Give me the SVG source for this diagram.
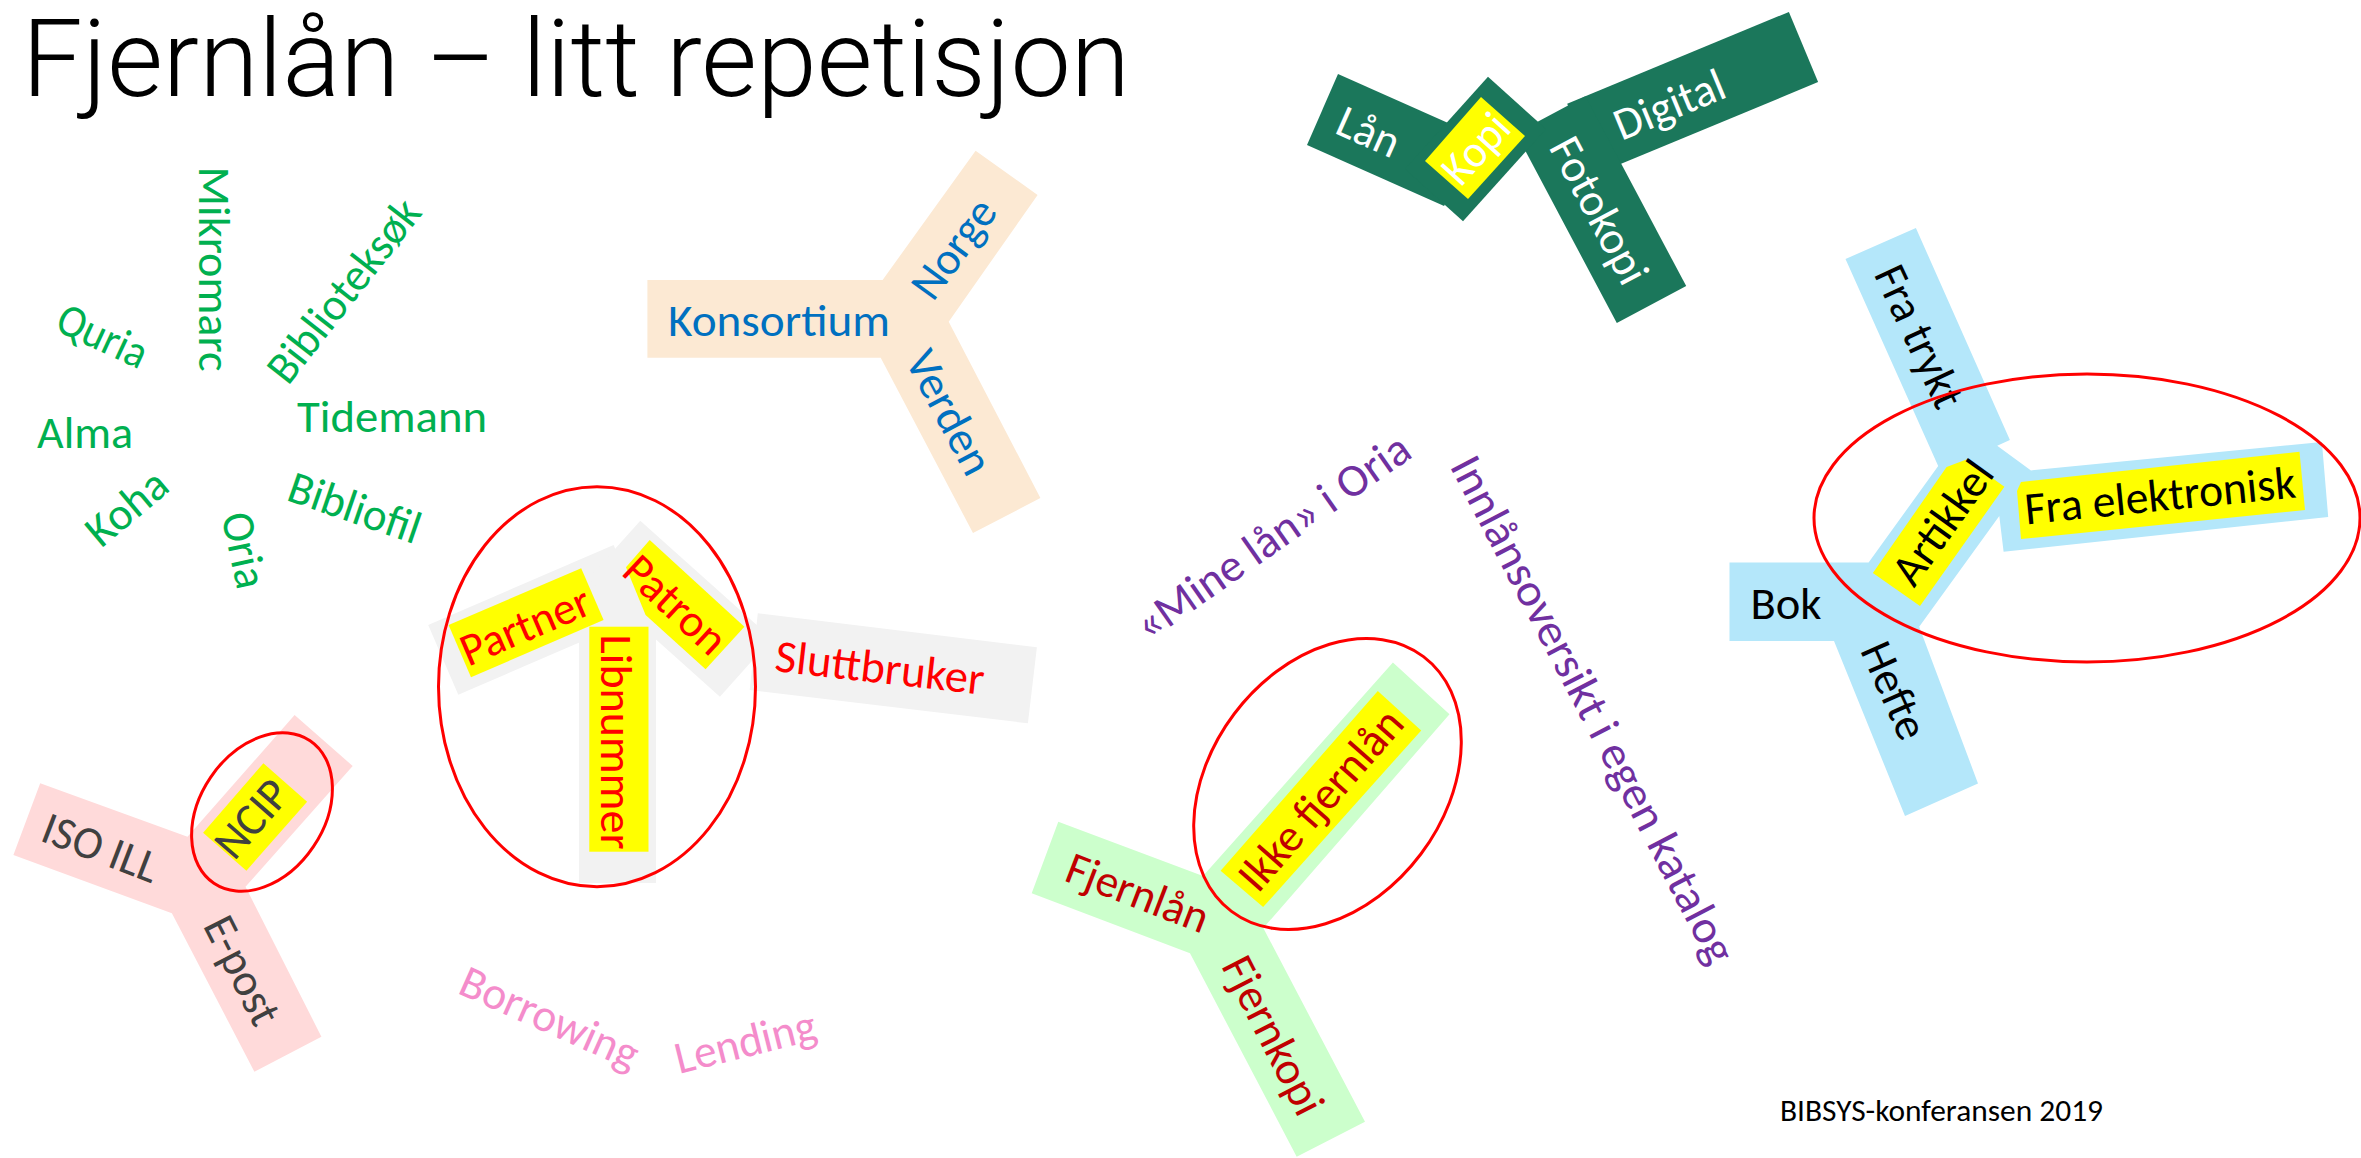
<svg xmlns="http://www.w3.org/2000/svg" width="2361" height="1158" viewBox="0 0 2361 1158">
<style>
text{font-family:Carlito,Lato,"Open Sans",sans-serif;font-size:46px;text-anchor:middle}
.title{font-family:Roboto,Lato,sans-serif;font-size:108px;font-weight:300;text-anchor:start;fill:#000}
.foot{font-size:31px;text-anchor:start;fill:#000}
.green{fill:#00B050}.blue{fill:#0070C0}.white{fill:#fff}.black{fill:#000}
.gray{fill:#404040}.red{fill:#FF0000}.dred{fill:#C00000}.purple{fill:#7030A0}.pink{fill:#F48CCB}
.hl{fill:#FFFF00}
.ring{fill:none;stroke:#FF0000;stroke-width:3}
</style>
<rect width="2361" height="1158" fill="#fff"/>
<text class="title" x="22" y="96" textLength="1108" lengthAdjust="spacingAndGlyphs">Fjernlån – litt repetisjon</text>

<g id="systems">
<text class="green" transform="translate(103 335) rotate(25)" y="16" textLength="95" lengthAdjust="spacingAndGlyphs">Quria</text>
<text class="green" transform="translate(215 269) rotate(90)" y="16" textLength="205" lengthAdjust="spacingAndGlyphs">Mikromarc</text>
<text class="green" transform="translate(343 290) rotate(-52)" y="16" textLength="220" lengthAdjust="spacingAndGlyphs">Biblioteksøk</text>
<text class="green" transform="translate(392 416)" y="16" textLength="190" lengthAdjust="spacingAndGlyphs">Tidemann</text>
<text class="green" transform="translate(85 432)" y="16" textLength="96" lengthAdjust="spacingAndGlyphs">Alma</text>
<text class="green" transform="translate(126 507) rotate(-40)" y="16" textLength="92" lengthAdjust="spacingAndGlyphs">Koha</text>
<text class="green" transform="translate(245 550) rotate(78)" y="16" textLength="77" lengthAdjust="spacingAndGlyphs">Oria</text>
<text class="green" transform="translate(355 507) rotate(19)" y="16" textLength="137" lengthAdjust="spacingAndGlyphs">Bibliofil</text>
</g>

<g id="konsortium">
<polygon fill="#FCE9D3" points="647.4,280 882.6,280 975.6,150.7 1037.6,195 948.7,321.7 1040.4,498 973,533 880.7,357.7 647.4,357.7"/>
<text class="blue" transform="translate(779 320)" y="16" textLength="222" lengthAdjust="spacingAndGlyphs">Konsortium</text>
<text class="blue" transform="translate(953 248) rotate(-54)" y="16" textLength="112" lengthAdjust="spacingAndGlyphs">Norge</text>
<text class="blue" transform="translate(950 412) rotate(62)" y="16" textLength="134" lengthAdjust="spacingAndGlyphs">Verden</text>
</g>

<g id="kopi" fill="#1B775B">
<polygon points="1567.2,103.8 1788.9,11.9 1818.1,82.1 1596.4,174"/>
<polygon points="1516,133.2 1585.4,96.3 1686.2,286.1 1616.8,323"/>
<polygon points="1338,74 1475.1,135 1444.1,206 1307,145"/>
<polygon points="1488,76.8 1546,129 1463,221.2 1405,169"/>
<polygon class="hl" points="1481,97 1525,136 1468,199 1425,161"/>
<text class="white" transform="translate(1369 131) rotate(24)" y="16" textLength="64" lengthAdjust="spacingAndGlyphs">Lån</text>
<text class="white" transform="translate(1475 148) rotate(-48)" y="16" textLength="78" lengthAdjust="spacingAndGlyphs">Kopi</text>
<text class="white" transform="translate(1600 210) rotate(62)" y="16" textLength="160" lengthAdjust="spacingAndGlyphs">Fotokopi</text>
<text class="white" transform="translate(1669 104) rotate(-22.5)" y="16" textLength="116" lengthAdjust="spacingAndGlyphs">Digital</text>
</g>

<g id="materiale">
<polygon fill="#B4E7FA" points="1845.5,259 1915.9,228 2009.9,440 1997.2,445.7 2031,470.4 2321.9,442 2328.2,517 2003.6,551.8 1999.3,516 1919.2,626.8 1978,783.4 1905,816 1834,641 1729.5,641 1729.5,562.5 1868.6,562.5 1938.2,466"/>
<polygon class="hl" points="1946.6,467 1966.4,459.6 2004.4,486.8 1920,606 1872.9,573"/>
<polygon class="hl" points="2017,491 2021,482 2299.5,451.8 2305,510 2021,539"/>
<text class="black" transform="translate(1920 336) rotate(65)" y="16" textLength="152" lengthAdjust="spacingAndGlyphs">Fra trykt</text>
<text class="black" transform="translate(1786 603)" y="16" textLength="71" lengthAdjust="spacingAndGlyphs">Bok</text>
<text class="black" transform="translate(1895 690) rotate(66)" y="16" textLength="102" lengthAdjust="spacingAndGlyphs">Hefte</text>
<text class="black" transform="translate(1942 522) rotate(-54.5)" y="16" textLength="141" lengthAdjust="spacingAndGlyphs">Artikkel</text>
<text class="black" transform="translate(2160 495) rotate(-5.7)" y="16" textLength="272" lengthAdjust="spacingAndGlyphs">Fra elektronisk</text>
<ellipse class="ring" cx="2087" cy="518" rx="273" ry="144"/>
</g>

<g id="protokoll">
<polygon fill="#FFDADA" points="40.2,783.3 187.5,836.7 294.6,715 352.7,766 245.5,886.7 321.4,1036.7 254.4,1071.7 171.9,913.3 13.4,855"/>
<polygon class="hl" points="263.4,763.3 307.1,801.7 246.4,870.7 203.1,832.7"/>
<text class="gray" transform="translate(101 847) rotate(21)" y="16" textLength="121" lengthAdjust="spacingAndGlyphs">ISO ILL</text>
<text class="gray" transform="translate(251 818) rotate(-49)" y="16" textLength="88" lengthAdjust="spacingAndGlyphs">NCIP</text>
<text class="gray" transform="translate(243 970) rotate(63)" y="16" textLength="116" lengthAdjust="spacingAndGlyphs">E-post</text>
<ellipse class="ring" transform="translate(262 812) rotate(-56)" rx="86" ry="62"/>
</g>

<g id="brukere">
<g fill="#F2F2F2">
<polygon points="428.2,625 613.6,545 643.7,614.8 458.3,694.8"/>
<polygon points="640.3,520.7 772,638.6 719.9,696.7 588.2,578.8"/>
<rect x="579" y="590" width="77" height="293"/>
<polygon points="757.8,613.3 1036.9,647.3 1027.9,723.3 749.7,690"/>
</g>
<polygon class="hl" points="448.6,625 581.2,568.3 603.6,620 471,677.3"/>
<polygon class="hl" points="649.7,540 744.4,626.7 705.6,669.3 645.6,615 626,567.3"/>
<rect class="hl" x="589.3" y="626.7" width="59.2" height="225"/>
<text class="red" transform="translate(525 625) rotate(-23.2)" y="16" textLength="137" lengthAdjust="spacingAndGlyphs">Partner</text>
<text class="red" transform="translate(676 604) rotate(43)" y="16" textLength="123" lengthAdjust="spacingAndGlyphs">Patron</text>
<text class="red" transform="translate(617 742) rotate(90)" y="16" textLength="215" lengthAdjust="spacingAndGlyphs">Libnummer</text>
<text class="red" transform="translate(880 667) rotate(6.5)" y="16" textLength="210" lengthAdjust="spacingAndGlyphs">Sluttbruker</text>
<ellipse class="ring" cx="597" cy="686.7" rx="158.5" ry="200"/>
</g>

<g id="retning">
<text class="pink" transform="translate(550 1017) rotate(24)" y="16" textLength="191" lengthAdjust="spacingAndGlyphs">Borrowing</text>
<text class="pink" transform="translate(745 1041) rotate(-14)" y="16" textLength="144" lengthAdjust="spacingAndGlyphs">Lending</text>
</g>

<g id="fjernlan">
<polygon fill="#CCFFCC" points="1058.3,821.7 1203,876 1392.9,662.5 1449.5,714.3 1263.3,928.1 1365,1121.7 1296.7,1156.7 1190,953.3 1031.7,893.3"/>
<polygon class="hl" points="1377.8,691 1421.2,730.4 1263.1,907.1 1220.6,870.7"/>
<text class="dred" transform="translate(1138 892) rotate(21)" y="16" textLength="149" lengthAdjust="spacingAndGlyphs">Fjernlån</text>
<text class="dred" transform="translate(1274 1035) rotate(63)" y="16" textLength="172" lengthAdjust="spacingAndGlyphs">Fjernkopi</text>
<text class="dred" transform="translate(1320 799) rotate(-48.8)" y="16" textLength="225" lengthAdjust="spacingAndGlyphs">Ikke fjernlån</text>
<ellipse class="ring" transform="translate(1327.5 784) rotate(-53)" rx="159.5" ry="116.7"/>
</g>

<g id="oversikt">
<text class="purple" transform="translate(1272 536) rotate(-35)" y="16" textLength="325" lengthAdjust="spacingAndGlyphs">«Mine lån» i Oria</text>
<text class="purple" transform="translate(1594 709) rotate(62.5)" y="16" textLength="565" lengthAdjust="spacingAndGlyphs">Innlånsoversikt i egen katalog</text>
</g>

<g id="connectors"></g>

<text class="foot" x="1780" y="1121" textLength="323" lengthAdjust="spacingAndGlyphs">BIBSYS-konferansen 2019</text>
</svg>
